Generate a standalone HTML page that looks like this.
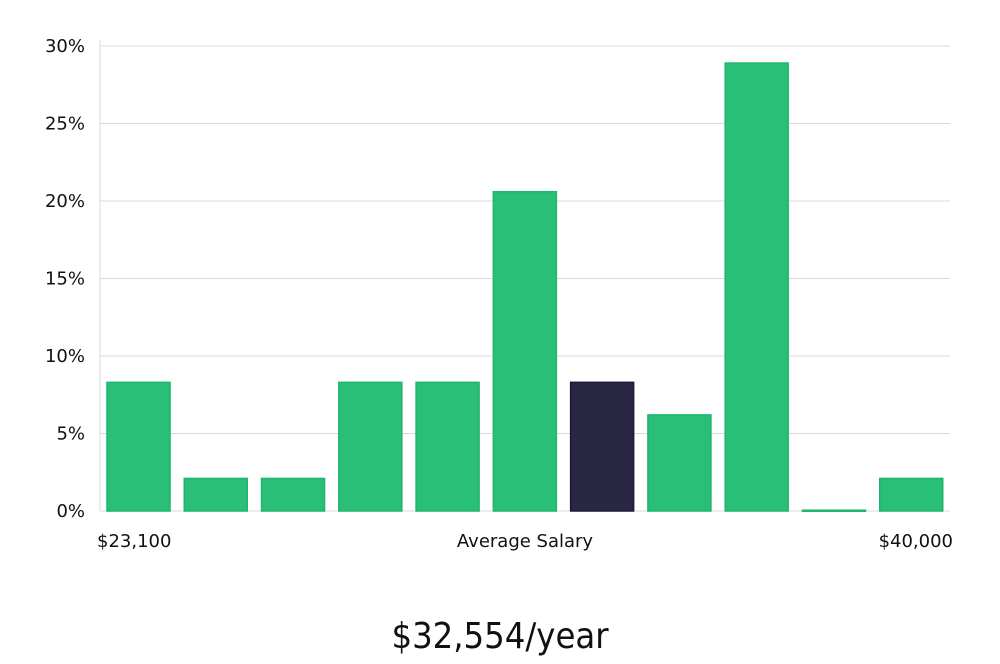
<!DOCTYPE html>
<html><head><meta charset="utf-8"><style>
body{margin:0;background:#fff;width:1000px;height:660px;overflow:hidden;font-family:"DejaVu Sans","Liberation Sans",sans-serif}
</style></head><body>
<svg width="1000" height="660" id="chart"></svg>
<script>
const categories=["b1","b2","b3","b4","b5","b6","b7","b8","b9","b10","b11"];
const values=[8.3,2.1,2.1,8.3,8.3,20.6,8.3,6.2,28.9,0.05,2.1];
const highlight=[false,false,false,false,false,false,true,false,false,false,false];
const yTicks=[0,5,10,15,20,25,30];
const NS="http://www.w3.org/2000/svg";
const svg=document.getElementById('chart');
const x0=100,x1=950,yTop=46,yBot=511,yMax=30;
const y=v=>yBot-(v/yMax)*(yBot-yTop);
const pitch=(x1-x0)/categories.length;
const bw=63;
function mk(t,a,txt){const e=document.createElementNS(NS,t);for(const k in a)e.setAttribute(k,a[k]);if(txt!==undefined)e.textContent=txt;svg.appendChild(e);return e;}
yTicks.forEach(t=>{
 const l=mk('line',{x1:x0,x2:x1,y1:y(t),y2:y(t),stroke:'#d9d9d9','stroke-width':1});
 
 
 const tx=mk('text',{x:85,y:y(t)+6,'text-anchor':'end','font-size':18,fill:'#111'},t+'%');
 
 
});
const ax=mk('line',{x1:x0,x2:x0,y1:40,y2:yBot,stroke:'#d9d9d9','stroke-width':1});


values.forEach((v,i)=>{
 const bx=x0+7+pitch*i;
 const r=mk('rect',{x:bx,y:y(v),width:bw,height:Math.max(1,yBot-y(v)),fill:highlight[i]?'#2a2745':'#2abf77',stroke:highlight[i]?'#1a1838':'#1fb46b','stroke-width':1.5});
 
 
});
const labels=[["$23,100",97,'start'],["Average Salary",525,'middle'],["$40,000",953,'end']];
labels.forEach(l=>{
 const t=mk('text',{x:l[1],y:547,'text-anchor':l[2],'font-size':18,fill:'#111'},l[0]);
 
 
});
const title=mk('text',{x:500,y:648,'text-anchor':'middle','font-size':36,fill:'#111','font-family':'"DejaVu Sans Condensed","Liberation Sans Narrow",sans-serif'},"$32,554/year");


</script>
</body></html>
